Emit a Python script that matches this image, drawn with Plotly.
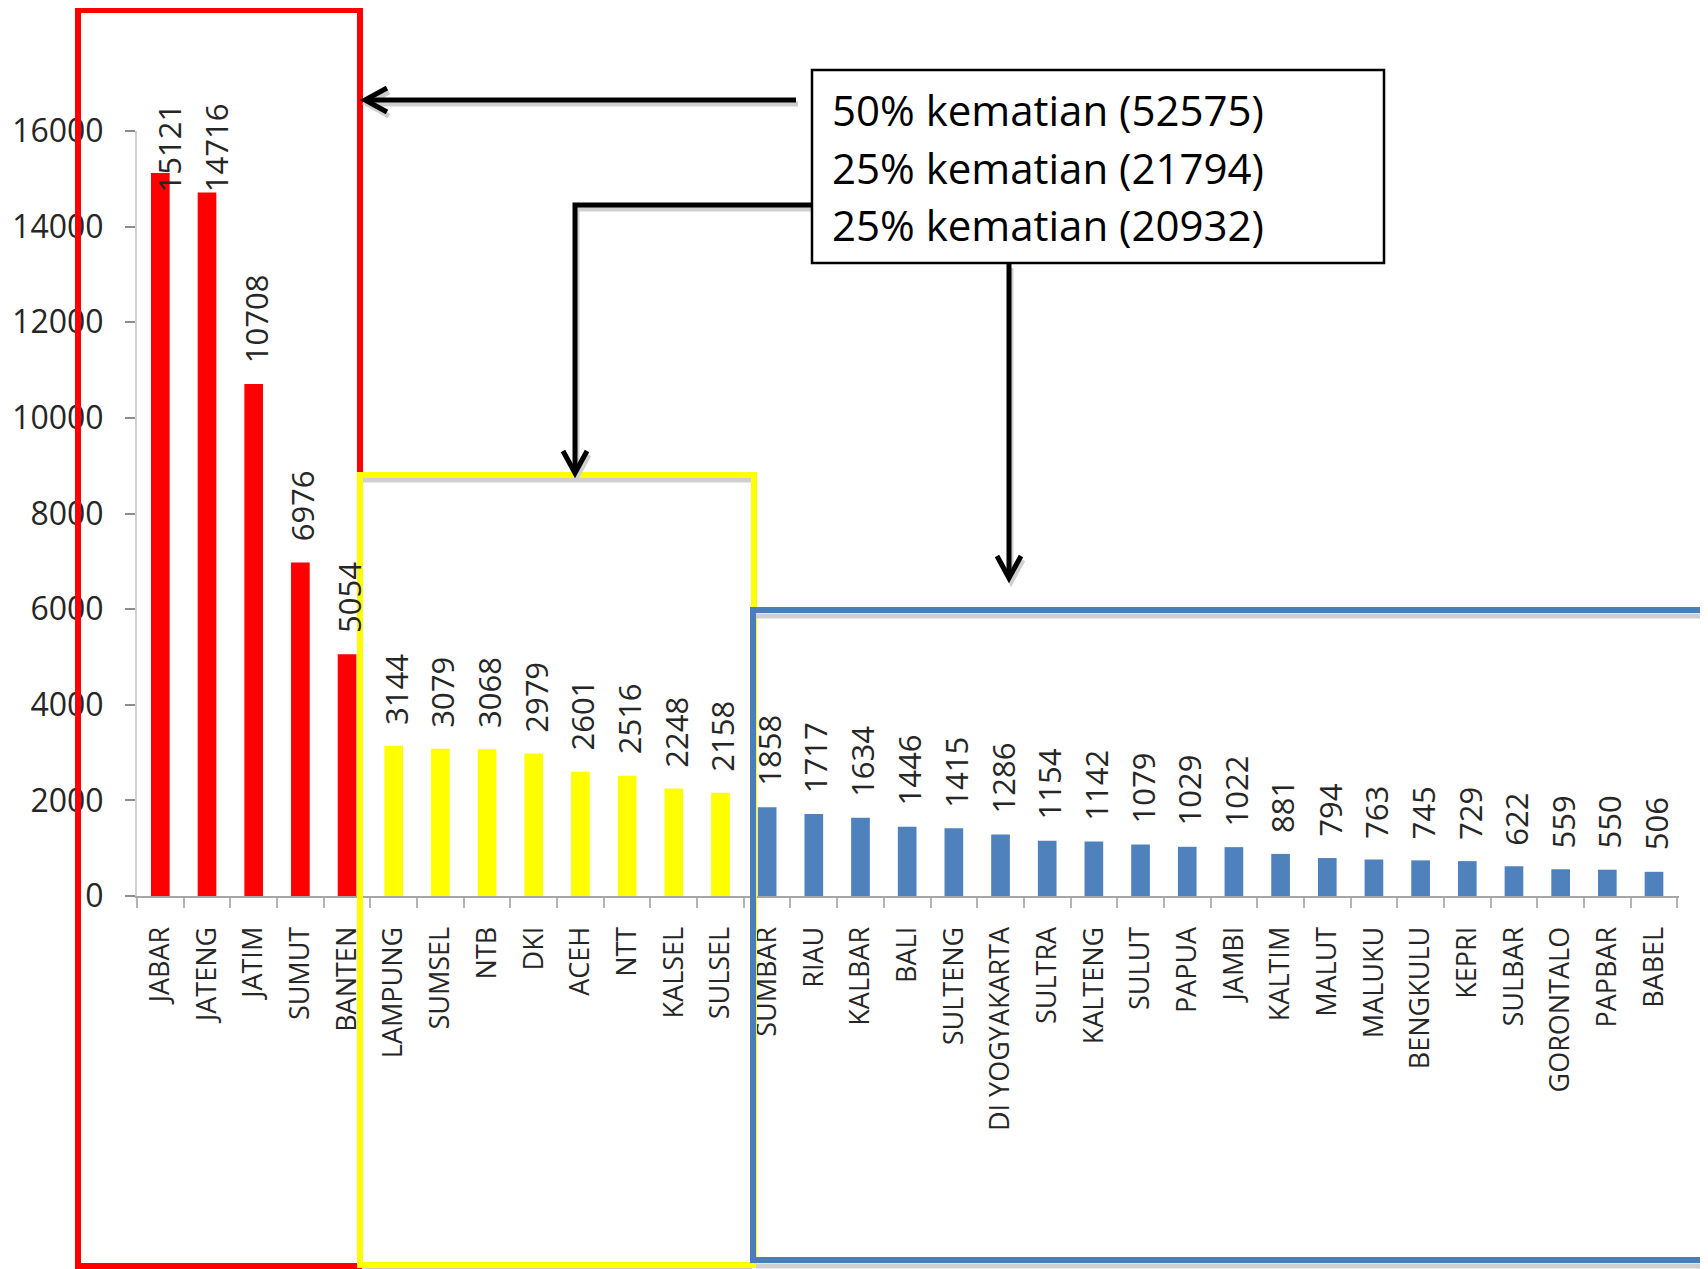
import plotly.graph_objects as go

# ---------------- data ----------------
provinces = ["JABAR", "JATENG", "JATIM", "SUMUT", "BANTEN",
             "LAMPUNG", "SUMSEL", "NTB", "DKI", "ACEH", "NTT", "KALSEL", "SULSEL",
             "SUMBAR", "RIAU", "KALBAR", "BALI", "SULTENG", "DI YOGYAKARTA", "SULTRA",
             "KALTENG", "SULUT", "PAPUA", "JAMBI", "KALTIM", "MALUT", "MALUKU",
             "BENGKULU", "KEPRI", "SULBAR", "GORONTALO", "PAPBAR", "BABEL"]
deaths = [15121, 14716, 10708, 6976, 5054,
          3144, 3079, 3068, 2979, 2601, 2516, 2248, 2158,
          1858, 1717, 1634, 1446, 1415, 1286, 1154,
          1142, 1079, 1029, 1022, 881, 794, 763,
          745, 729, 622, 559, 550, 506]
group_sizes = [5, 8, 20]
group_colors = ["#ff0000", "#ffff00", "#4f81bd"]
y_ticks = [0, 2000, 4000, 6000, 8000, 10000, 12000, 14000, 16000]
y_tick_labels = ["0", "2000", "4000", "6000", "8000", "10000", "12000", "14000", "16000"]
box_lines = ["50% kematian (52575)", "25% kematian (21794)", "25% kematian (20932)"]

# ---------------- layout geometry (page pixels) ----------------
OFF = 8                      # browser body margin
PAGE_W, PAGE_H = 1708, 1269
W, H = PAGE_W - OFF, PAGE_H - OFF
PL, PR, PT, PB = 137, 1679, 131, 896   # plot area in page pixels
YMAX = 16000


def px(x):
    return (x - PL) / (PR - PL)


def py(y):
    return (PB - y) / (PB - PT)


bar_colors = []
for size, col in zip(group_sizes, group_colors):
    bar_colors += [col] * size

fig = go.Figure()
fig.add_trace(go.Bar(x=provinces, y=deaths, marker=dict(color=bar_colors, line=dict(width=0)),
                     showlegend=False, hoverinfo="x+y"))

FONT = "Open Sans"
TXT = "#262626"

annotations = []
label_font = 31
for name, v in zip(provinces, deaths):
    s = str(v)
    bar_top_px = PB - v * (PB - PT) / YMAX
    L = len(s) * 0.572 * label_font
    ys = min(19, bar_top_px - 106 - L)
    xs = 2 if ys >= 19 else 9
    annotations.append(dict(x=name, y=v, xref="x", yref="y", text=s, showarrow=False,
                            textangle=-90, xanchor="center", yanchor="bottom",
                            yshift=ys, xshift=xs, font=dict(family=FONT, size=label_font, color=TXT)))

for txt, yc in zip(box_lines, [109, 167, 224]):
    annotations.append(dict(x=px(830), y=py(yc), xref="paper", yref="paper", text=txt,
                            showarrow=False, xanchor="left", yanchor="middle",
                            font=dict(family=FONT, size=42, color="#000000")))

shapes = []


def rect(x0, y0, x1, y1, color, width, fill=None):
    d = dict(type="rect", xref="paper", yref="paper", x0=px(x0), x1=px(x1), y0=py(y0), y1=py(y1),
             line=dict(color=color, width=width), layer="above")
    if fill:
        d["fillcolor"] = fill
    return d


def line(x0, y0, x1, y1, color, width):
    return dict(type="line", xref="paper", yref="paper", x0=px(x0), x1=px(x1), y0=py(y0), y1=py(y1),
                line=dict(color=color, width=width), layer="above")


def path(points, color, width):
    d = "M " + " L ".join(f"{px(x):.6f},{py(y):.6f}" for x, y in points)
    return dict(type="path", xref="paper", yref="paper", path=d,
                line=dict(color=color, width=width), layer="above")


SH = "#cfcfcf"
shapes.append(rect(78, 10, 360, 1266, "#ff0000", 6))
shapes.append(line(362, 480, 752, 480, SH, 5))
shapes.append(line(362, 1269, 752, 1269, SH, 4))
shapes.append(rect(360, 475, 754, 1265, "#ffff00", 6))
shapes.append(line(756, 616, 1720, 616, SH, 5))
shapes.append(line(756, 1266, 1720, 1266, SH, 5))
shapes.append(rect(753, 610, 1730, 1260, "#4a7ebb", 6))

arrows = [
    [(796, 100), (365, 100)],
    [(812, 205), (575, 205), (575, 473)],
    [(1009, 264), (1009, 578)],
]
heads = [
    [(387, 88), (365, 100), (387, 112)],
    [(563, 451), (575, 473), (587, 451)],
    [(997, 556), (1009, 578), (1021, 556)],
]
for a in arrows:
    shapes.append(path([(x + 2, y + 4) for x, y in a], SH, 5))
for h in heads:
    shapes.append(path([(x + 2, y + 4) for x, y in h], SH, 5))
for a in arrows:
    shapes.append(path(a, "#000000", 5))
for h in heads:
    shapes.append(path(h, "#000000", 5))

shapes.append(rect(812, 70, 1384, 263, "#000000", 2.5, fill="#ffffff"))

fig.update_layout(
    width=W, height=H,
    margin=dict(l=PL - OFF, r=PAGE_W - PR, t=PT - OFF, b=PAGE_H - PB, autoexpand=False),
    paper_bgcolor="#ffffff", plot_bgcolor="#ffffff",
    bargap=0.6,
    showlegend=False,
    annotations=annotations,
    shapes=shapes,
    font=dict(family=FONT, color=TXT),
    xaxis=dict(type="category", categoryorder="array", categoryarray=provinces,
               showgrid=False, zeroline=False, showline=True, linecolor="#a6a6a6", linewidth=2,
               ticks="outside", tickson="boundaries", ticklen=10, tickcolor="#b4b4b4", tickwidth=2,
               tickangle=-90, tickfont=dict(family=FONT, size=27, color=TXT),
               ticklabelstandoff=18, automargin=False),
    yaxis=dict(range=[0, YMAX], tickmode="array", tickvals=y_ticks, ticktext=y_tick_labels,
               showgrid=False, zeroline=False,
               showline=True, linecolor="#d0d0d0", linewidth=2,
               ticks="outside", ticklen=10, tickcolor="#8c8c8c", tickwidth=1.5,
               tickfont=dict(family=FONT, size=32, color=TXT),
               ticklabelstandoff=15, automargin=False, fixedrange=True),
)

fig.write_html("out.html")
